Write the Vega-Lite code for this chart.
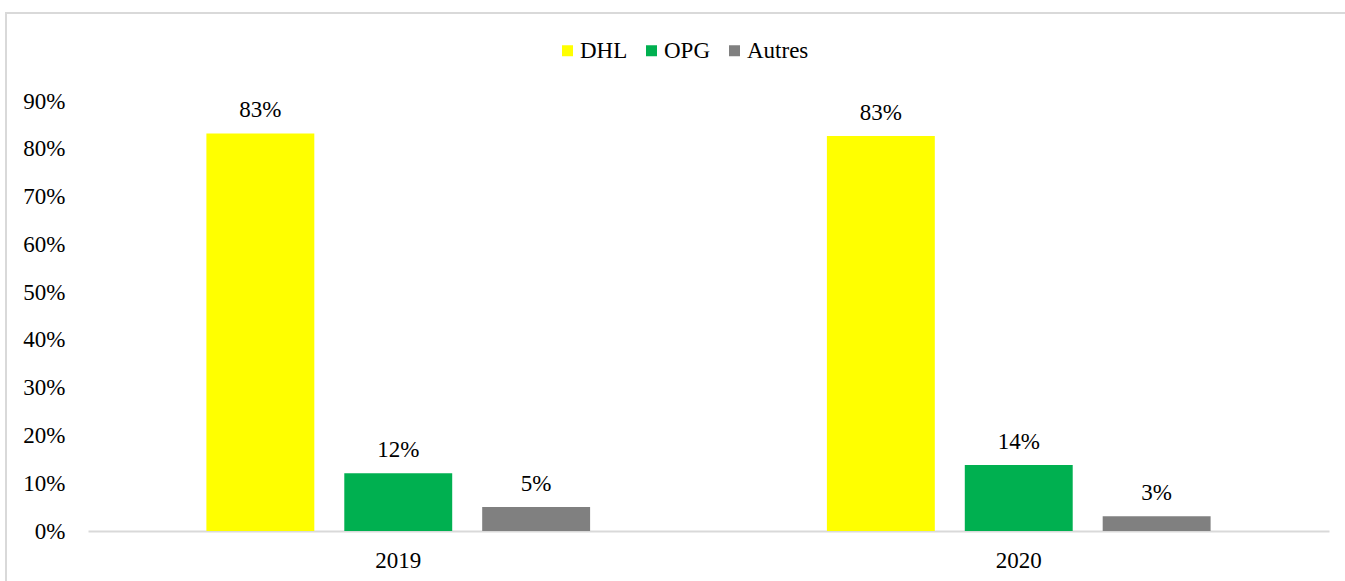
{
  "$schema": "https://vega.github.io/schema/vega-lite/v6.json",
  "width": 1342,
  "height": 571,
  "autosize": {"type": "none"},
  "padding": {"left": 6, "top": 13, "right": -3, "bottom": -3},
  "background": "white",
  "data": {
    "values": [
      {"year": "2019", "source": "DHL", "value": 0.832},
      {"year": "2019", "source": "OPG", "value": 0.121},
      {"year": "2019", "source": "Autres", "value": 0.050},
      {"year": "2020", "source": "DHL", "value": 0.827},
      {"year": "2020", "source": "OPG", "value": 0.138},
      {"year": "2020", "source": "Autres", "value": 0.031}
    ]
  },
  "encoding": {
    "x": {
      "field": "year",
      "type": "nominal",
      "sort": null,
      "title": null,
      "scale": {"range": [82, 1323], "paddingInner": 0.3816, "paddingOuter": 0.1908},
      "axis": {
        "orient": "bottom",
        "offset": -53,
        "domainColor": "#D9D9D9",
        "domainWidth": 2,
        "ticks": false,
        "tickSize": 0,
        "labelPadding": 18,
        "labelAngle": 0,
        "labelFont": "Liberation Serif",
        "labelFontSize": 23,
        "labelColor": "black",
        "grid": false
      }
    },
    "xOffset": {
      "field": "source",
      "type": "nominal",
      "sort": ["DHL", "OPG", "Autres"],
      "scale": {"paddingInner": 0.2174, "paddingOuter": 0}
    },
    "y": {
      "field": "value",
      "type": "quantitative",
      "stack": null,
      "title": null,
      "scale": {"domain": [0, 0.9], "range": [518, 88], "nice": false, "zero": false},
      "axis": {
        "values": [0, 0.1, 0.2, 0.3, 0.4, 0.5, 0.6, 0.7, 0.8, 0.9],
        "format": ".0%",
        "domain": false,
        "ticks": false,
        "tickSize": 0,
        "grid": false,
        "labelPadding": 0,
        "offset": -59,
        "labelFont": "Liberation Serif",
        "labelFontSize": 23,
        "labelColor": "black"
      }
    }
  },
  "layer": [
    {
      "mark": {"type": "bar"},
      "encoding": {
        "y2": {"datum": 0},
        "color": {
          "field": "source",
          "type": "nominal",
          "sort": ["DHL", "OPG", "Autres"],
          "scale": {"domain": ["DHL", "OPG", "Autres"], "range": ["#FFFF00", "#00B050", "#808080"]},
          "legend": {
            "orient": "none",
            "legendX": 550,
            "legendY": 26,
            "direction": "horizontal",
            "title": null,
            "symbolType": "square",
            "symbolSize": 121,
            "symbolStrokeWidth": 0,
            "labelOffset": 1,
            "columnPadding": 12,
            "labelFont": "Liberation Serif",
            "labelFontSize": 23,
            "labelColor": "black",
            "padding": 0
          }
        }
      }
    },
    {
      "mark": {"type": "text", "dy": -16, "baseline": "alphabetic", "font": "Liberation Serif", "fontSize": 23, "color": "black"},
      "encoding": {
        "text": {"field": "value", "type": "quantitative", "format": ".0%"}
      }
    }
  ],
  "config": {"view": {"stroke": "#D9D9D9", "strokeWidth": 2}}
}
